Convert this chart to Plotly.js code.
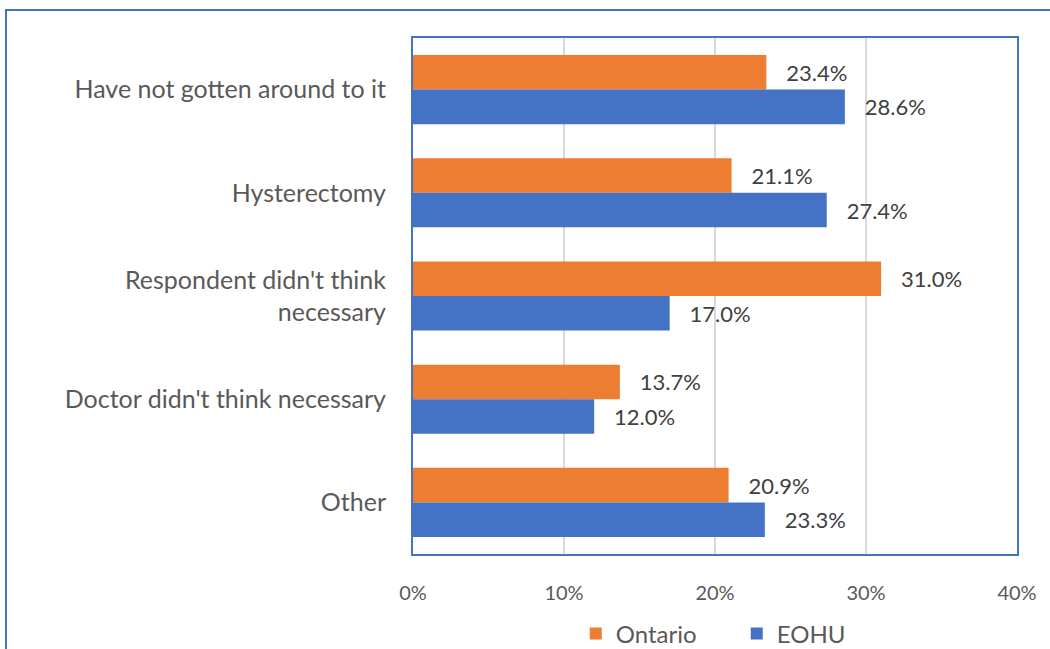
<!DOCTYPE html>
<html>
<head>
<meta charset="utf-8">
<script src="https://cdn.plot.ly/plotly-3.0.1.min.js"></script>
<style>
  html, body { margin: 0; padding: 0; background: #fff; overflow: hidden; }
  #chart { width: 1050px; height: 649px; position: relative; }
  #frame { position: absolute; left: 5px; top: 9px; width: 1060px; height: 660px;
           border: 2px solid #4472C4; pointer-events: none; box-sizing: border-box; }
</style>
</head>
<body>
<div id="chart"></div>
<div id="frame"></div>
<script>
const categories = [
  "Have not gotten around to it",
  "Hysterectomy",
  "Respondent didn't think<br>necessary",
  "Doctor didn't think necessary",
  "Other"
];
const ontario = [23.4, 21.1, 31.0, 13.7, 20.9];
const eohu = [28.6, 27.4, 17.0, 12.0, 23.3];
const seriesNames = ["Ontario", "EOHU"];
const xTickVals = [0, 10, 20, 30, 40];
const xTickText = ["0%", "10%", "20%", "30%", "40%"];

const FONT = "Lato, 'Open Sans', sans-serif";

function barTrace(name, values, color) {
  return {
    type: "bar",
    orientation: "h",
    name: name,
    y: categories,
    x: values,
    marker: { color: color },
    text: values.map(v => v.toFixed(1) + "%"),
    texttemplate: "   %{text}",
    textposition: "outside",
    cliponaxis: false,
    textfont: { family: FONT, size: 22, color: "#404040" },
    hoverinfo: "skip"
  };
}

const data = [
  barTrace(seriesNames[0], ontario, "#ED7D31"),
  barTrace(seriesNames[1], eohu, "#4472C4")
];

const layout = {
  width: 1050,
  height: 649,
  margin: { l: 413, r: 33, t: 38, b: 95, autoexpand: false },
  paper_bgcolor: "#ffffff",
  plot_bgcolor: "#ffffff",
  barmode: "group",
  bargap: 0.33,
  bargroupgap: 0,
  showlegend: true,
  legend: {
    orientation: "h",
    x: 0.536, xanchor: "center",
    y: -0.155, yanchor: "middle",
    font: { family: FONT, size: 24, color: "#595959" },
    traceorder: "normal",
    itemwidth: 30,
    entrywidth: 116,
    entrywidthmode: "pixels"
  },
  xaxis: {
    range: [0, 40],
    tickvals: xTickVals,
    ticktext: xTickText,
    showgrid: true,
    gridcolor: "#D9D9D9",
    gridwidth: 1.5,
    zeroline: false,
    showline: true,
    linecolor: "#4472C4",
    linewidth: 2,
    mirror: true,
    ticks: "",
    automargin: false,
    ticklabelstandoff: 20,
    tickfont: { family: FONT, size: 20, color: "#595959" },
    fixedrange: true
  },
  yaxis: {
    autorange: "reversed",
    showgrid: false,
    zeroline: false,
    showline: true,
    linecolor: "#4472C4",
    linewidth: 2,
    mirror: true,
    ticks: "",
    automargin: false,
    ticklabelstandoff: 20,
    tickfont: { family: FONT, size: 25, color: "#595959" },
    fixedrange: true
  }
};

Plotly.newPlot("chart", data, layout, { displayModeBar: false, staticPlot: true });
</script>
</body>
</html>
